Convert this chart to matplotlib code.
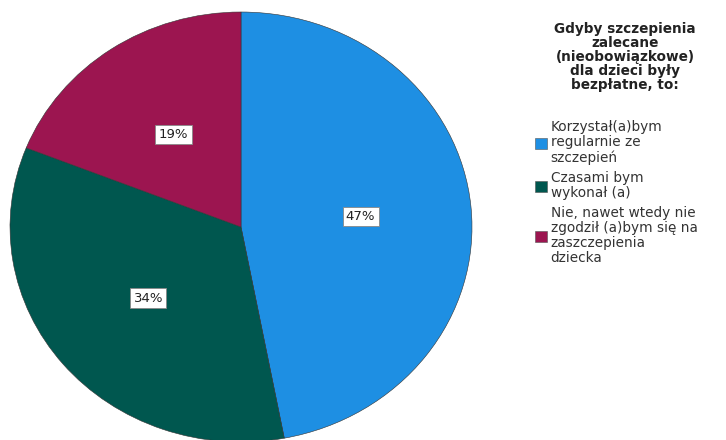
import matplotlib
matplotlib.use("Agg")
import matplotlib.pyplot as plt
from matplotlib.patches import Patch

# data
labels = ["Korzystał(a)bym\nregularnie ze\nszczepień",
          "Czasami bym\nwykonał (a)",
          "Nie, nawet wtedy nie\nzgodził (a)bym się na\nzaszczepienia\ndziecka"]
values = [47, 34, 19]
colors = ["#1e8fe3", "#00574f", "#9c1550"]
legend_title = "Gdyby szczepienia\nzalecane\n(nieobowiązkowe)\ndla dzieci były\nbezpłatne, to:"

plt.rcParams["font.family"] = ["DejaVu Sans"]

fig = plt.figure(figsize=(7.26, 4.4), dpi=100)
ax = fig.add_axes([10 / 726, -2 / 440, 462 / 726, 430 / 440])

wedges, texts, autotexts = ax.pie(
    values, colors=colors, startangle=90, counterclock=False,
    autopct="%1.0f%%", pctdistance=0.52,
    wedgeprops=dict(edgecolor="#333333", linewidth=0.4),
    textprops=dict(fontsize=9.5, color="#222222"))
for t in autotexts:
    t.set_bbox(dict(boxstyle="square,pad=0.25", facecolor="white",
                    edgecolor="#888888", linewidth=0.6))
ax.set_aspect("auto")
ax.set_xlim(-1.0, 1.0)
ax.set_ylim(-1.0, 1.0)

# legend title as separate centred text
fig.text(625 / 726, 1 - 22 / 440, legend_title, ha="center", va="top",
         fontsize=9.8, fontweight="bold", color="#222222", linespacing=1.0)

handles = [Patch(facecolor=c, edgecolor="#555555", linewidth=0.4) for c in colors]
leg = fig.legend(handles, labels,
                 loc="upper left", bbox_to_anchor=(535 / 726, 1 - 120 / 440),
                 frameon=False, fontsize=9.8,
                 handlelength=0.9, handleheight=0.9, handletextpad=0.25,
                 labelspacing=0.45, borderaxespad=0, borderpad=0)
for t in leg.get_texts():
    t.set_color("#333333")
    t.set_linespacing(1.1)

fig.savefig("out.png", dpi=100)
